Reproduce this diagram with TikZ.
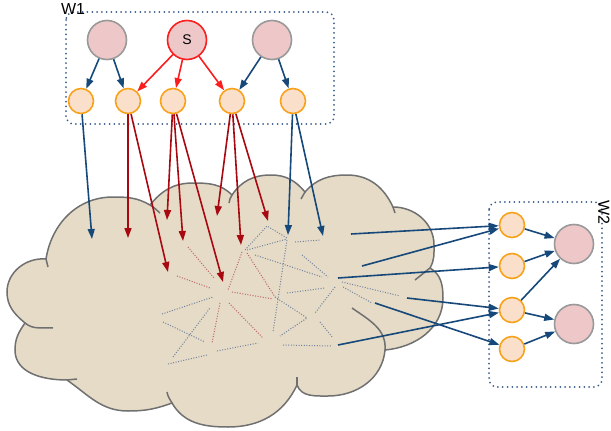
\documentclass[tikz,border=0pt]{standalone}
\usepackage{fontspec}
\setmainfont{Liberation Sans}
\usetikzlibrary{arrows.meta, positioning, calc}

\definecolor{navy}{RGB}{22,72,122}
\definecolor{brightred}{RGB}{250,30,30}
\definecolor{darkred}{RGB}{168,8,16}
\definecolor{pinkfill}{RGB}{238,200,200}
\definecolor{peachfill}{RGB}{250,223,202}
\definecolor{orangeline}{RGB}{248,162,28}
\definecolor{cloudfill}{RGB}{229,219,199}
\definecolor{cloudline}{RGB}{112,112,112}
\definecolor{boxline}{RGB}{60,95,140}
\definecolor{netblue}{RGB}{115,130,158}
\definecolor{netred}{RGB}{190,100,100}

\tikzset{
  bignode/.style={circle, draw=gray!80, fill=pinkfill, line width=1.6pt, minimum size=39pt, inner sep=0pt},
  srcnode/.style={bignode, draw=brightred, font=\fontsize{14}{16}\selectfont},
  smallnode/.style={circle, draw=orangeline, fill=peachfill, line width=1.6pt, minimum size=25pt, inner sep=0pt},
  group/.style={draw=boxline, rounded corners=8pt, line width=2pt, dash pattern=on 0pt off 4.8pt, line cap=round},
  grouplabel/.style={font=\fontsize{16}{18}\selectfont},
  bluearrow/.style={->, navy, line width=1.6pt},
  redarrow/.style={->, brightred, line width=1.6pt},
  darkarrow/.style={->, darkred, line width=1.6pt},
  netb/.style={draw=netblue, line width=1pt, dash pattern=on 1pt off 1.6pt},
  netr/.style={netb, draw=netred},
  cloudedge/.style={draw=cloudline, line width=1.5pt}
}

\begin{document}
\begin{tikzpicture}[x=1pt, y=1pt, >={Triangle[length=10pt, width=7pt]}]
\useasboundingbox (0,0) rectangle (611,-431);

% group boxes
\draw [group] (66,-12) rectangle (334,-124);
\node [grouplabel] (w1label) at (73,-9) {W1};
\draw [group] (489,-202) rectangle (602,-387);
\node [grouplabel, rotate=-90] (w2label) at (604,-212) {W2};

% the cloud
\draw [cloudedge, fill=cloudfill] (46,-259)
    to[out=81,in=180] (113,-197) to[out=0,in=150] (150,-205)
    to[out=51,in=180] (193,-183) to[out=0,in=135] (232,-195)
    to[out=56,in=180] (271,-175) to[out=0,in=130] (305,-192)
    to[out=49,in=180] (347,-175) to[out=0,in=115] (393,-207)
    to[out=0,in=90] (434,-245) to[out=-90,in=60] (430,-268)
    to[out=-30,in=90] (443,-298) to[out=-90,in=5] (385,-350)
    to[out=-95,in=0] (328,-396) to[out=180,in=-70] (297,-385)
    to[out=-115,in=0] (228,-427) to[out=180,in=-60] (172,-403)
    to[out=200,in=0] (128,-411) to[out=180,in=-35] (67,-380)
    to[out=180,in=-90] (15,-350) to[out=90,in=-125] (25,-323)
    to[out=140,in=-90] (7,-292) to[out=90,in=175] (46,-259) -- cycle;
\draw [cloudedge] (46,-259) -- (48,-267);
\draw [cloudedge] (150,-205) to[out=-30,in=140] (160,-213);
\draw [cloudedge] (232,-195) to[out=-124,in=80] (229,-203);
\draw [cloudedge] (305,-192) -- (301,-199);
\draw [cloudedge] (393,-207) -- (395,-213);
\draw [cloudedge] (430,-268) -- (415,-280);
\draw [cloudedge] (385,-350) to[out=85,in=-35] (352,-308);
\draw [cloudedge] (297,-385) -- (297,-377);
\draw [cloudedge] (172,-403) to[out=120,in=-80] (167,-392);
\draw [cloudedge] (67,-380) -- (77,-379);
\draw [cloudedge] (25,-323) to[out=-40,in=175] (53,-328);

% links inside the cloud
\draw [netr] (188,-247) -- (214,-278);
\draw [netr] (177,-276) -- (210,-288);
\draw [netr] (242,-252) -- (228,-290);
\draw [netr] (232,-292) -- (273,-299);
\draw [netr] (247,-253) -- (275,-297);
\draw [netr] (220,-303) -- (212,-343);
\draw [netr] (229,-303) -- (263,-338);
\draw [netb] (162,-314) -- (213,-297);
\draw [netb] (163,-322) -- (205,-342);
\draw [netb] (173,-357) -- (210,-308);
\draw [netb] (168,-364) -- (207,-355);
\draw [netb] (217,-351) -- (258,-343);
\draw [netb] (247,-250) -- (287,-239);
\draw [netb] (245,-250) -- (267,-226) -- (287,-238);
\draw [netb] (295,-242) -- (320,-240);
\draw [netb] (255,-255) -- (322,-277);
\draw [netb] (302,-255) -- (328,-277);
\draw [netb] (287,-240) -- (273,-332);
\draw [netb] (287,-293) -- (325,-288);
\draw [netb] (335,-287) -- (315,-313);
\draw [netb] (275,-297) -- (307,-318) -- (280,-336);
\draw [netb] (320,-322) -- (333,-338);
\draw [netb] (283,-345) -- (332,-346);
\draw [netb] (342,-282) -- (400,-296);
\draw [netb] (343,-287) -- (372,-303);

% W1 hosts
\node [bignode] (w1a) at (107,-40) {};
\node [srcnode] (src) at (187,-40) {S};
\node [bignode] (w1b) at (272,-40) {};
\node [smallnode] (t1) at (81,-101) {};
\node [smallnode] (t2) at (128,-101) {};
\node [smallnode] (t3) at (173,-101) {};
\node [smallnode] (t4) at (232,-101) {};
\node [smallnode] (t5) at (293,-101) {};

\draw [bluearrow] (w1a) -- (t1);
\draw [bluearrow] (w1a) -- (t2);
\draw [redarrow] (src) -- (t2);
\draw [redarrow] (src) -- (t3);
\draw [redarrow] (src) -- (t4);
\draw [bluearrow] (w1b) -- (t4);
\draw [bluearrow] (w1b) -- (t5);

% entry points in the cloud
\coordinate (in1) at (92,-239);
\coordinate (in2) at (128,-238);
\coordinate (in3) at (168,-272);
\coordinate (in4) at (167,-220);
\coordinate (in5) at (183,-241);
\coordinate (in6) at (223,-282);
\coordinate (in7) at (217,-216);
\coordinate (in8) at (241,-245);
\coordinate (in9) at (268,-221);
\coordinate (in10) at (288,-235);
\coordinate (in11) at (323,-236);

\draw [bluearrow] (t1) -- (in1);
\draw [darkarrow] (t2) -- (in2);
\draw [darkarrow] (t2) -- (in3);
\draw [darkarrow] (t3) -- (in4);
\draw [darkarrow] (t3) -- (in5);
\draw [darkarrow] (t3) -- (in6);
\draw [darkarrow] (t4) -- (in7);
\draw [darkarrow] (t4) -- (in8);
\draw [darkarrow] (t4) -- (in9);
\draw [bluearrow] (t5) -- (in10);
\draw [bluearrow] (t5) -- (in11);

% W2 hosts
\node [smallnode] (r1) at (512,-225) {};
\node [smallnode] (r2) at (512,-266) {};
\node [smallnode] (r3) at (512,-310) {};
\node [smallnode] (r4) at (512,-349) {};
\node [bignode] (w2a) at (574,-244) {};
\node [bignode] (w2b) at (574,-324) {};

\draw [bluearrow] (r1) -- (w2a);
\draw [bluearrow] (r2) -- (w2a);
\draw [bluearrow] (r3) -- (w2a);
\draw [bluearrow] (r3) -- (w2b);
\draw [bluearrow] (r4) -- (w2b);

% exit points of the cloud
\coordinate (out1) at (351,-234);
\coordinate (out2) at (362,-266);
\coordinate (out3) at (338,-278);
\coordinate (out4) at (407,-298);
\coordinate (out5) at (375,-303);
\coordinate (out6) at (338,-345);

\draw [bluearrow] (out1) -- (r1);
\draw [bluearrow] (out2) -- (r1);
\draw [bluearrow] (out3) -- (r2);
\draw [bluearrow] (out4) -- (r3);
\draw [bluearrow] (out5) -- (r4);
\draw [bluearrow] (out6) -- (r3);
\end{tikzpicture}
\end{document}
